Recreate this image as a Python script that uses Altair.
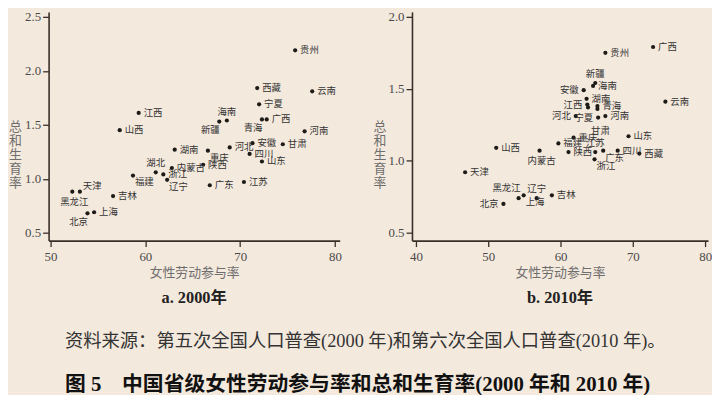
import altair as alt
import pandas as pd

# ---- data: 2000 ----
prov_2000 = ["江西", "山西", "湖南", "内蒙古", "湖北", "浙江", "辽宁", "福建", "天津", "黑龙江",
             "吉林", "上海", "北京", "贵州", "西藏", "云南", "宁夏", "青海", "广西", "海南",
             "新疆", "河南", "甘肃", "安徽", "河北", "四川", "重庆", "陕西", "山东", "广东", "江苏"]
flfp_2000 = [59.3, 57.3, 63.1, 62.8, 61.1, 61.9, 62.3, 58.7, 53.1, 52.3,
             56.6, 54.6, 53.9, 75.8, 71.8, 77.6, 72.0, 72.3, 72.8, 68.6,
             67.8, 76.8, 74.5, 71.3, 68.9, 71.0, 66.6, 66.1, 72.3, 66.8, 70.4]
tfr_2000 = [1.61, 1.45, 1.27, 1.10, 1.06, 1.04, 0.99, 1.03, 0.88, 0.88,
            0.84, 0.69, 0.68, 2.19, 1.84, 1.81, 1.69, 1.55, 1.55, 1.54,
            1.53, 1.44, 1.32, 1.33, 1.29, 1.23, 1.26, 1.13, 1.16, 0.94, 0.97]

# ---- data: 2010 ----
prov_2010 = ["广西", "贵州", "新疆", "海南", "安徽", "湖南", "江西", "湖北", "青海", "甘肃",
             "河北", "宁夏", "河南", "云南", "重庆", "山东", "福建", "江苏", "四川", "内蒙古",
             "陕西", "广东", "西藏", "浙江", "山西", "天津", "黑龙江", "辽宁", "上海", "北京", "吉林"]
flfp_2010 = [72.8, 66.2, 64.8, 64.5, 63.2, 63.6, 63.7, 63.8, 65.1, 65.1,
             62.1, 65.2, 66.2, 74.5, 61.8, 69.4, 59.7, 64.8, 67.9, 57.1,
             61.1, 65.9, 70.9, 64.7, 51.1, 46.8, 54.2, 56.7, 54.9, 52.1, 58.8]
tfr_2010 = [1.79, 1.75, 1.54, 1.52, 1.49, 1.43, 1.39, 1.37, 1.38, 1.36,
            1.31, 1.30, 1.31, 1.41, 1.16, 1.17, 1.12, 1.06, 1.07, 1.07,
            1.06, 1.07, 1.05, 1.01, 1.09, 0.92, 0.74, 0.74, 0.76, 0.70, 0.76]

x_ticks_2000 = [50, 60, 70, 80]
y_ticks_2000 = [0.5, 1.0, 1.5, 2.0, 2.5]
x_ticks_2010 = [40, 50, 60, 70, 80]
y_ticks_2010 = [0.5, 1.0, 1.5, 2.0]

# ---- label placement (layout, not data) ----
place_2000 = {"湖北": "a", "辽宁": "br", "福建": "br", "天津": "ar", "黑龙江": "b",
              "北京": "bl", "青海": "bl", "海南": "a", "新疆": "bl", "重庆": "br"}
place_2010 = {"新疆": "a", "安徽": "l", "江西": "l", "湖北": "none", "甘肃": "b2",
              "河北": "l", "宁夏": "l", "江苏": "a", "内蒙古": "b", "广东": "br",
              "浙江": "br", "黑龙江": "al", "辽宁": "a", "上海": "br", "北京": "l"}

PLACE = {
    "r": dict(align="left", dx=5, dy=0),
    "l": dict(align="right", dx=-5, dy=0),
    "a": dict(align="center", dx=0, dy=-9),
    "b": dict(align="center", dx=2, dy=10),
    "br": dict(align="left", dx=2, dy=7),
    "bl": dict(align="center", dx=-9, dy=9),
    "ar": dict(align="left", dx=3, dy=-6),
    "al": dict(align="right", dx=2, dy=-10),
    "b2": dict(align="center", dx=3, dy=22),
}

BG = "#F4E9DD"
AX = "#3a2f28"
SERIF = "Liberation Serif, Noto Sans CJK SC"
SANS = "Noto Sans CJK SC"


def make_df(names, xs, ys, place):
    return pd.DataFrame({"name": names, "flfp": xs, "tfr": ys,
                         "pos": [place.get(n, "r") for n in names]})


def panel(df, xdom, ydom, xticks, yticks, title, ytitle_x, width):
    base = alt.Chart(df)
    x = alt.X("flfp:Q",
              scale=alt.Scale(domain=xdom, nice=False, zero=False),
              axis=alt.Axis(values=xticks, format="d", title="女性劳动参与率"))
    y = alt.Y("tfr:Q",
              scale=alt.Scale(domain=ydom, nice=False, zero=False),
              axis=alt.Axis(values=yticks, format=".1f",
                            title=["总", "和", "生", "育", "率"],
                            titleAngle=0, titleX=ytitle_x, titleY=116,
                            titleAlign="center", titleBaseline="middle",
                            titleLineHeight=14))
    layers = [base.mark_circle(size=18, color="#1d1a17", opacity=1).encode(x=x, y=y)]
    for key, opt in PLACE.items():
        layers.append(
            base.transform_filter(alt.datum.pos == key)
            .mark_text(font=SANS, fontSize=9.5, color="#333333", baseline="middle", **opt)
            .encode(x="flfp:Q", y="tfr:Q", text="name:N")
        )
    return alt.layer(*layers).properties(
        width=width, height=231,
        title=alt.TitleParams(title, orient="bottom", anchor="middle", offset=11,
                              font=SERIF, fontSize=16.5, fontWeight="bold", color="#222222"),
    )


left = panel(make_df(prov_2000, flfp_2000, tfr_2000, place_2000),
             [49.8, 80.5], [0.427, 2.546], x_ticks_2000, y_ticks_2000,
             "a. 2000年", -34, 294)
right = panel(make_df(prov_2010, flfp_2010, tfr_2010, place_2010),
              [39.45, 80.4], [0.445, 2.034], x_ticks_2010, y_ticks_2010,
              "b. 2010年", -33, 299)

chart = alt.hconcat(
    left, right, spacing=73, bounds="flush",
    title=alt.TitleParams(
        text="资料来源：第五次全国人口普查(2000 年)和第六次全国人口普查(2010 年)。",
        subtitle="图 5\u3000中国省级女性劳动参与率和总和生育率(2000 年和 2010 年)",
        orient="bottom", anchor="start", dx=57, offset=26,
        font=SERIF, fontSize=18.5, fontWeight="normal", color="#333333",
        subtitleFont=SERIF, subtitleFontSize=21, subtitleFontWeight="bold",
        subtitleColor="#111111", subtitlePadding=24,
    ),
).properties(background=BG, padding=0).configure_view(stroke=None).configure_axis(
    grid=False, domainColor=AX, domainWidth=1.6, tickColor=AX, tickWidth=1.3, tickSize=6,
    labelFont="Liberation Serif", labelFontSize=13, labelColor="#4a4a4a",
    titleFont=SANS, titleFontSize=13, titleColor="#6e6e6e", titleFontWeight="normal",
).configure_axisX(labelPadding=4, titlePadding=3).configure_axisY(labelPadding=2)

chart.save("out.html", embed_options={"renderer": "svg", "actions": False})
